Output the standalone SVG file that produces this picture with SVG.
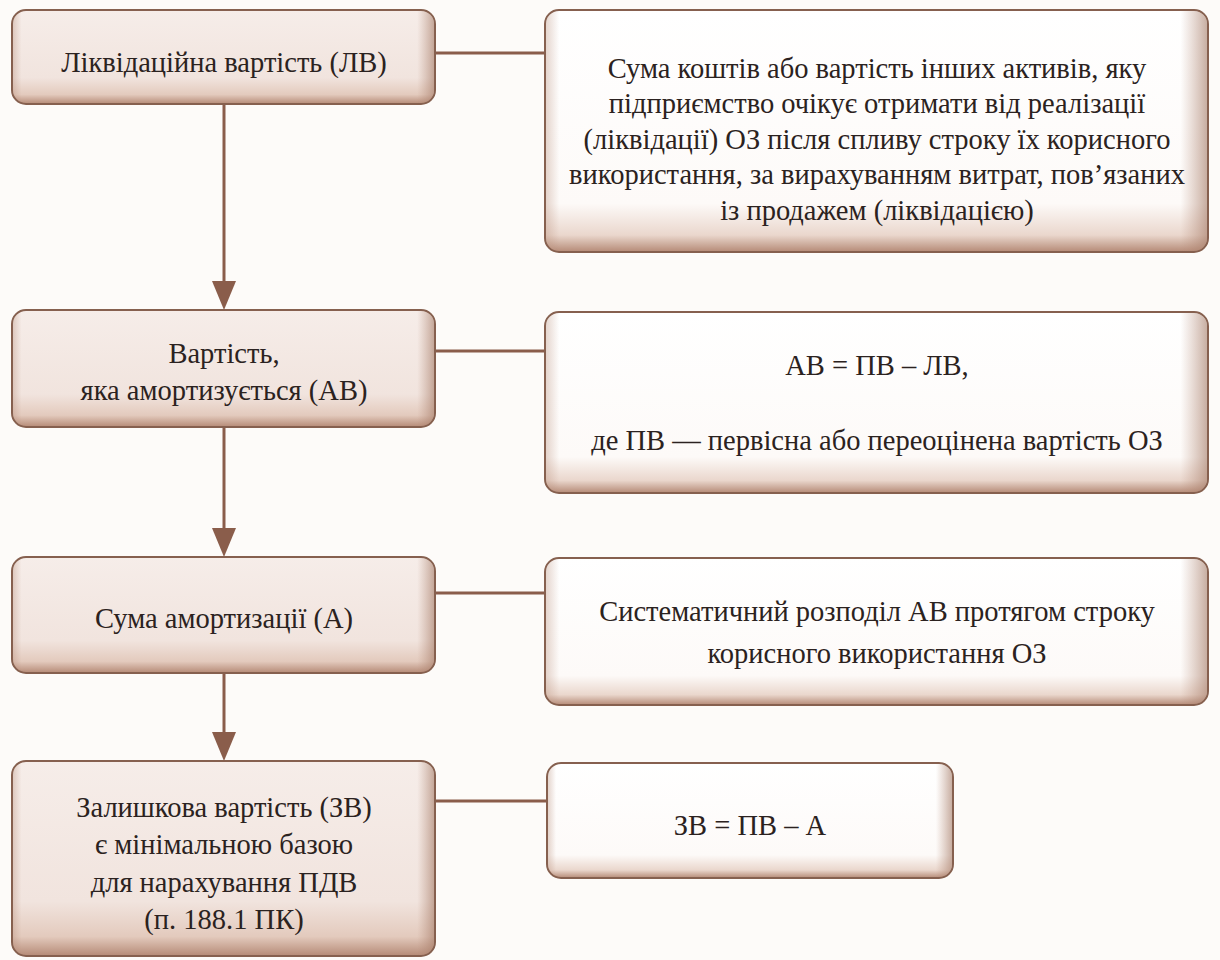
<svg xmlns="http://www.w3.org/2000/svg" width="1220" height="960" viewBox="0 0 1220 960">
  <defs>
    <linearGradient id="gLeftV" x1="0" y1="0" x2="0" y2="1">
      <stop offset="0" stop-color="#f6ede9"/>
      <stop offset="0.72" stop-color="#f1e4de"/>
      <stop offset="0.9" stop-color="#e3cabd"/>
      <stop offset="1" stop-color="#b58a76"/>
    </linearGradient>
    <linearGradient id="gRightV" x1="0" y1="0" x2="0" y2="1">
      <stop offset="0" stop-color="#ffffff"/>
      <stop offset="0.8" stop-color="#fdfaf8"/>
      <stop offset="0.93" stop-color="#ead7cd"/>
      <stop offset="1" stop-color="#b58a76"/>
    </linearGradient>
    <linearGradient id="gEdgeH" x1="0" y1="0" x2="1" y2="0">
      <stop offset="0" stop-color="#b58a76" stop-opacity="0.35"/>
      <stop offset="0.02" stop-color="#b58a76" stop-opacity="0"/>
      <stop offset="0.96" stop-color="#b58a76" stop-opacity="0"/>
      <stop offset="1" stop-color="#a47a66" stop-opacity="0.6"/>
    </linearGradient>
  </defs>
  <style>
    .bg { fill: #fdfbf9; }
    .lbox { fill: url(#gLeftV); stroke: #86604f; stroke-width: 2; }
    .rbox { fill: url(#gRightV); stroke: #86604f; stroke-width: 2; }
    .edge { fill: url(#gEdgeH); stroke: none; }
    .conn { stroke: #8a5d4b; stroke-width: 3; fill: none; }
    .head { fill: #8a5d4b; }
    .t { font-family: "Liberation Serif", "DejaVu Serif", serif; font-size: 28.5px; fill: #2b2220; text-anchor: middle; }
  </style>
  <rect class="bg" x="0" y="0" width="1220" height="960"/>

  <g id="connectors">
    <path class="conn" d="M224,104 V282"/>
    <path class="head" d="M212,281 L236,281 L224,310 Z"/>
    <path class="conn" d="M224,427 V529"/>
    <path class="head" d="M212,528 L236,528 L224,557 Z"/>
    <path class="conn" d="M224,673 V733"/>
    <path class="head" d="M212,732 L236,732 L224,761 Z"/>
    <path class="conn" d="M435,53 H545"/>
    <path class="conn" d="M435,351 H545"/>
    <path class="conn" d="M435,593 H545"/>
    <path class="conn" d="M435,801 H547"/>
  </g>

  <g id="lv">
    <rect class="lbox" x="12" y="10" width="423" height="94" rx="14"/>
    <rect class="edge" x="13" y="11" width="421" height="92" rx="13"/>
    <text class="t" x="224" y="72">Ліквідаційна вартість (ЛВ)</text>
  </g>
  <g id="lv-def">
    <rect class="rbox" x="545" y="10" width="663" height="242" rx="14"/>
    <rect class="edge" x="546" y="11" width="661" height="240" rx="13"/>
    <text class="t" x="877" y="78">Сума коштів або вартість інших активів, яку</text>
    <text class="t" x="877" y="113">підприємство очікує отримати від реалізації</text>
    <text class="t" x="877" y="149">(ліквідації) ОЗ після спливу строку їх корисного</text>
    <text class="t" x="877" y="184">використання, за вирахуванням витрат, пов’язаних</text>
    <text class="t" x="877" y="220">із продажем (ліквідацією)</text>
  </g>

  <g id="av">
    <rect class="lbox" x="12" y="310" width="423" height="117" rx="14"/>
    <rect class="edge" x="13" y="311" width="421" height="115" rx="13"/>
    <text class="t" x="224" y="363">Вартість,</text>
    <text class="t" x="224" y="400">яка амортизується (АВ)</text>
  </g>
  <g id="av-def">
    <rect class="rbox" x="545" y="312" width="663" height="181" rx="14"/>
    <rect class="edge" x="546" y="313" width="661" height="179" rx="13"/>
    <text class="t" x="877" y="375">АВ = ПВ – ЛВ,</text>
    <text class="t" x="877" y="450">де ПВ — первісна або переоцінена вартість ОЗ</text>
  </g>

  <g id="a">
    <rect class="lbox" x="12" y="557" width="423" height="116" rx="14"/>
    <rect class="edge" x="13" y="558" width="421" height="114" rx="13"/>
    <text class="t" x="224" y="628">Сума амортизації (А)</text>
  </g>
  <g id="a-def">
    <rect class="rbox" x="545" y="558" width="663" height="147" rx="14"/>
    <rect class="edge" x="546" y="559" width="661" height="145" rx="13"/>
    <text class="t" x="877" y="621">Систематичний розподіл АВ протягом строку</text>
    <text class="t" x="877" y="663">корисного використання ОЗ</text>
  </g>

  <g id="zv">
    <rect class="lbox" x="12" y="761" width="423" height="195" rx="14"/>
    <rect class="edge" x="13" y="762" width="421" height="193" rx="13"/>
    <text class="t" x="224" y="817">Залишкова вартість (ЗВ)</text>
    <text class="t" x="224" y="854">є мінімальною базою</text>
    <text class="t" x="224" y="892">для нарахування ПДВ</text>
    <text class="t" x="224" y="929">(п. 188.1 ПК)</text>
  </g>
  <g id="zv-def">
    <rect class="rbox" x="547" y="763" width="406" height="115" rx="14"/>
    <rect class="edge" x="548" y="764" width="404" height="113" rx="13"/>
    <text class="t" x="750" y="835">ЗВ = ПВ – А</text>
  </g>
</svg>
